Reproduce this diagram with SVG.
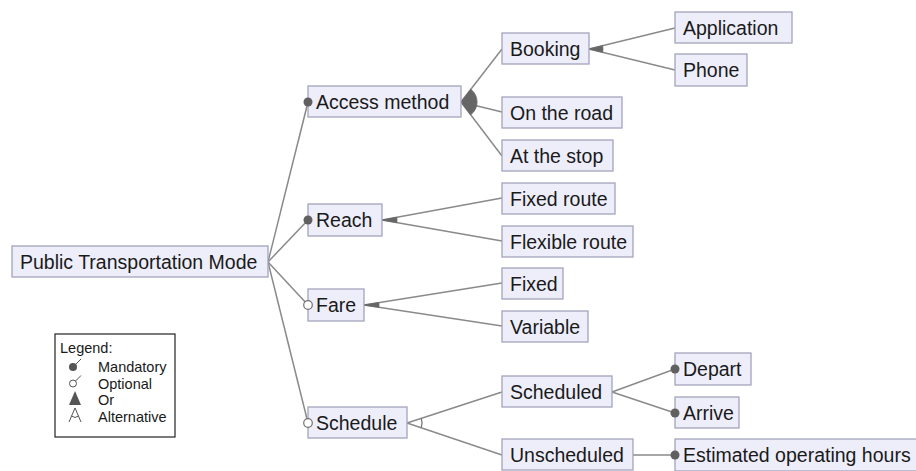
<svg xmlns="http://www.w3.org/2000/svg" width="916" height="471" viewBox="0 0 916 471">
<style>
.box{fill:#eeeefa;stroke:#a4a4bc;stroke-width:1.3}
.t{font-family:"Liberation Sans",Arial,sans-serif;font-size:19.5px;fill:#1a1a1a}
.lt{font-family:"Liberation Sans",Arial,sans-serif;font-size:14.5px;fill:#1a1a1a}
.ln{stroke:#8a8a8a;stroke-width:1.5;fill:none}
.w{fill:#666666;stroke:#666666;stroke-width:0.8}
.arc{fill:none;stroke:#777777;stroke-width:1.3}
.md{fill:#606060}
.op{fill:#ffffff;stroke:#707070;stroke-width:1.2}
</style>
<rect width="916" height="471" fill="#ffffff"/>
<g id="connectors">
<line class="ln" x1="268" y1="262" x2="308" y2="102"/>
<line class="ln" x1="268" y1="262" x2="308" y2="220"/>
<line class="ln" x1="268" y1="262" x2="308" y2="305"/>
<line class="ln" x1="268" y1="262" x2="308" y2="423"/>
<line class="ln" x1="461" y1="102" x2="502" y2="49"/>
<line class="ln" x1="461" y1="102" x2="502" y2="112"/>
<line class="ln" x1="461" y1="102" x2="502" y2="156"/>
<path class="w" d="M461,102 L470.8,89.3 A16,16 0 0 1 470.7,114.8 Z"/>
<line class="ln" x1="589" y1="49" x2="675" y2="28"/>
<line class="ln" x1="589" y1="49" x2="675" y2="70"/>
<path class="w" d="M589,49 L602.6,45.7 A14,14 0 0 1 602.6,52.3 Z"/>
<line class="ln" x1="382" y1="220" x2="502" y2="198"/>
<line class="ln" x1="382" y1="220" x2="502" y2="241"/>
<path class="w" d="M382,220 L396.75,217.3 A15,15 0 0 1 396.78,222.6 Z"/>
<line class="ln" x1="364" y1="305" x2="502" y2="283"/>
<line class="ln" x1="364" y1="305" x2="502" y2="326"/>
<path class="w" d="M364,305 L378.8,302.6 A15,15 0 0 1 378.8,307.3 Z"/>
<line class="ln" x1="407" y1="423" x2="502" y2="392"/>
<line class="ln" x1="407" y1="423" x2="502" y2="455"/>
<path class="arc" d="M421.3,418.3 A15,15 0 0 1 421.2,427.8"/>
<line class="ln" x1="612" y1="392" x2="675" y2="369"/>
<line class="ln" x1="612" y1="392" x2="675" y2="413"/>
<line class="ln" x1="633" y1="455" x2="675" y2="455"/>
</g>
<g id="nodes">
<g id="n-root"><rect class="box" x="12" y="246" width="256" height="31"/><text class="t" x="20" y="268.5">Public Transportation Mode</text></g>
<g id="n-access"><rect class="box" x="308" y="86" width="153" height="31"/><text class="t" x="316" y="108.5">Access method</text><circle class="md" cx="308" cy="102" r="4.5"/></g>
<g id="n-booking"><rect class="box" x="502" y="33" width="87" height="31"/><text class="t" x="510" y="55.5">Booking</text></g>
<g id="n-application"><rect class="box" x="675" y="12" width="117" height="31"/><text class="t" x="683" y="34.5">Application</text></g>
<g id="n-phone"><rect class="box" x="675" y="54" width="72" height="32"/><text class="t" x="683" y="77">Phone</text></g>
<g id="n-ontheroad"><rect class="box" x="502" y="97" width="120" height="31"/><text class="t" x="510" y="119.5">On the road</text></g>
<g id="n-atthestop"><rect class="box" x="502" y="140" width="111" height="31"/><text class="t" x="510" y="162.5">At the stop</text></g>
<g id="n-reach"><rect class="box" x="308" y="204" width="74" height="32"/><text class="t" x="316" y="227">Reach</text><circle class="md" cx="308" cy="220" r="4.5"/></g>
<g id="n-fixedroute"><rect class="box" x="502" y="183" width="113" height="31"/><text class="t" x="510" y="205.5">Fixed route</text></g>
<g id="n-flexibleroute"><rect class="box" x="502" y="226" width="131" height="31"/><text class="t" x="510" y="248.5">Flexible route</text></g>
<g id="n-fare"><rect class="box" x="308" y="289" width="56" height="32"/><text class="t" x="316" y="312">Fare</text><circle class="op" cx="308" cy="305" r="4.3"/></g>
<g id="n-fixed"><rect class="box" x="502" y="268" width="61" height="31"/><text class="t" x="510" y="290.5">Fixed</text></g>
<g id="n-variable"><rect class="box" x="502" y="311" width="86" height="31"/><text class="t" x="510" y="333.5">Variable</text></g>
<g id="n-schedule"><rect class="box" x="308" y="407" width="99" height="31"/><text class="t" x="316" y="429.5">Schedule</text><circle class="op" cx="308" cy="423" r="4.3"/></g>
<g id="n-scheduled"><rect class="box" x="502" y="376" width="110" height="31"/><text class="t" x="510" y="398.5">Scheduled</text></g>
<g id="n-unscheduled"><rect class="box" x="502" y="439" width="131" height="31"/><text class="t" x="510" y="461.5">Unscheduled</text></g>
<g id="n-depart"><rect class="box" x="675" y="353" width="76" height="32"/><text class="t" x="683" y="376">Depart</text><circle class="md" cx="675" cy="369" r="4.5"/></g>
<g id="n-arrive"><rect class="box" x="675" y="397" width="64" height="31"/><text class="t" x="683" y="419.5">Arrive</text><circle class="md" cx="675" cy="413" r="4.5"/></g>
<g id="n-estimated"><rect class="box" x="675" y="439" width="250" height="32"/><text class="t" x="683" y="462">Estimated operating hours</text><circle class="md" cx="675" cy="455" r="4.5"/></g>
</g>
<g id="legend">
<rect x="55" y="334" width="120" height="103" fill="#ffffff" stroke="#222222" stroke-width="1.2"/>
<text class="lt" x="60" y="353">Legend:</text>
<text class="lt" x="98" y="372">Mandatory</text>
<text class="lt" x="98" y="388.5">Optional</text>
<text class="lt" x="98" y="405">Or</text>
<text class="lt" x="98" y="421.5">Alternative</text>
<line x1="73" y1="367" x2="81" y2="359" stroke="#555" stroke-width="1"/>
<circle cx="73" cy="367" r="4" fill="#555"/>
<line x1="73" y1="383.5" x2="81" y2="375.5" stroke="#555" stroke-width="1"/>
<circle cx="73" cy="383.5" r="3.5" fill="#fff" stroke="#555" stroke-width="1"/>
<path d="M75,391 L69,405 L81,405 Z" fill="#555"/>
<path d="M69,422 L75,408 L81,422" fill="none" stroke="#555" stroke-width="1"/>
<path d="M71.5,416 Q75,419 78.5,416" fill="none" stroke="#555" stroke-width="1"/>
</g>
</svg>
